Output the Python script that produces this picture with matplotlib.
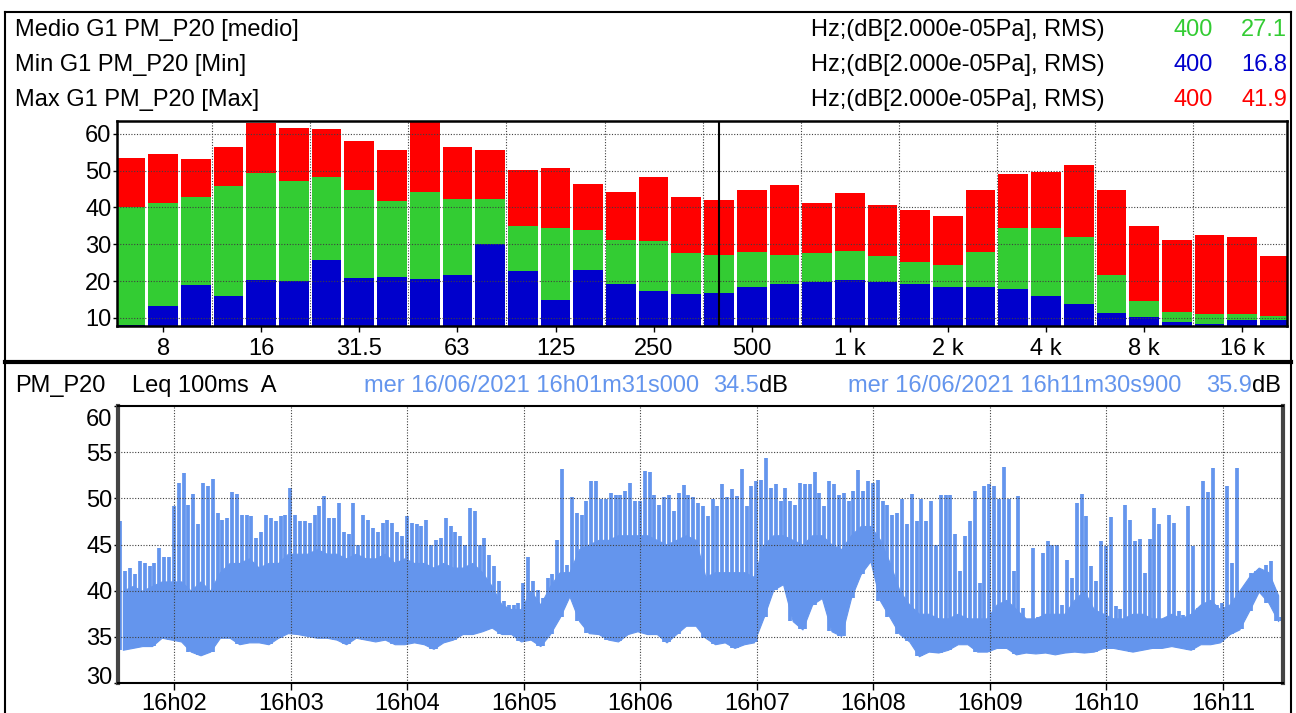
import numpy as np
import matplotlib
matplotlib.use('Agg')
import matplotlib.pyplot as plt
from matplotlib.lines import Line2D
from matplotlib.transforms import ScaledTranslation

plt.rcParams['font.family'] = ['Liberation Sans', 'DejaVu Sans']

# ---------------- data: 1/3 octave spectrum ----------------
bands = ['6.3', '8', '10', '12.5', '16', '20', '25', '31.5', '40', '50', '63', '80',
         '100', '125', '160', '200', '250', '315', '400', '500', '630', '800',
         '1 k', '1.25 k', '1.6 k', '2 k', '2.5 k', '3.15 k', '4 k', '5 k', '6.3 k',
         '8 k', '10 k', '12.5 k', '16 k', '20 k']
max_db = [53.4, 54.5, 53.2, 56.4, 63.0, 61.6, 61.4, 58.1, 55.6, 63.6, 56.4, 55.6,
          50.2, 50.7, 46.3, 44.2, 48.3, 42.8, 41.9, 44.7, 46.1, 41.1,
          43.9, 40.6, 39.2, 37.6, 44.7, 49.1, 49.6, 51.5, 44.7,
          34.9, 31.3, 32.4, 31.9, 26.9]
medio_db = [40.0, 41.1, 42.8, 45.8, 49.3, 47.2, 48.3, 44.7, 41.7, 44.2, 42.2, 42.2,
            34.9, 34.3, 33.8, 31.3, 30.8, 27.5, 27.1, 28.0, 27.2, 27.5,
            28.3, 26.9, 25.3, 24.5, 28.0, 34.3, 34.3, 31.9, 21.7,
            14.6, 11.6, 11.1, 11.1, 10.5]
min_db = [8.1, 13.3, 19.0, 16.0, 20.4, 20.0, 25.8, 20.9, 21.2, 20.7, 21.7, 30.2,
          22.8, 14.9, 23.1, 19.3, 17.4, 16.6, 16.8, 18.5, 19.3, 19.8,
          20.4, 19.8, 19.3, 18.5, 18.5, 17.9, 16.0, 13.8, 11.4,
          10.3, 8.9, 8.4, 9.5, 9.5]
tick_bands = ['8', '16', '31.5', '63', '125', '250', '500', '1 k', '2 k', '4 k', '8 k', '16 k']
cursor_band = '400'
spec_yticks = [10, 20, 30, 40, 50, 60]

legend_rows = [('Medio G1 PM_P20 [medio]', '400', '27.1', '#33CC33'),
               ('Min G1 PM_P20 [Min]', '400', '16.8', '#0000CC'),
               ('Max G1 PM_P20 [Max]', '400', '41.9', '#FF0000')]
unit_text = 'Hz;(dB[2.000e-05Pa], RMS)'

# ---------------- data: Leq 100ms A time history (s after 16h01m31s) ----------------
# peak level per 2.5 s
peak_db = [
    47.5, 42.1, 42.5, 41.8, 43.2, 43.0, 42.7, 43.0, 44.6, 43.7,
    43.6, 49.2, 51.7, 52.7, 49.3, 50.5, 47.2, 51.7, 51.3, 52.1,
    48.4, 47.7, 47.9, 50.7, 50.5, 48.2, 48.2, 48.1, 45.7, 46.3,
    48.2, 47.9, 47.5, 48.1, 48.2, 51.1, 48.2, 47.5, 47.5, 47.3,
    48.2, 49.2, 50.3, 47.9, 47.9, 49.5, 46.4, 46.1, 49.5, 45.0,
    48.2, 47.7, 46.8, 46.3, 47.3, 47.7, 47.3, 46.4, 45.9, 48.1,
    47.3, 47.2, 47.0, 47.7, 45.0, 45.5, 45.7, 47.9, 47.0, 46.4,
    45.9, 45.0, 48.9, 48.6, 45.0, 45.7, 43.9, 42.7, 41.0, 38.9,
    38.5, 38.5, 38.7, 40.8, 43.6, 41.0, 40.1, 39.2, 41.4, 41.8,
    45.5, 53.2, 42.8, 50.1, 48.4, 48.2, 49.7, 51.9, 51.9, 49.9,
    49.9, 50.6, 50.4, 50.4, 50.8, 51.7, 49.7, 49.7, 53.0, 52.8,
    50.4, 49.3, 50.1, 50.4, 48.6, 50.6, 51.4, 50.4, 50.1, 49.5,
    49.2, 48.1, 49.9, 49.2, 51.5, 50.1, 51.0, 50.2, 53.2, 49.2,
    51.3, 51.9, 52.0, 54.4, 51.1, 51.5, 49.7, 51.1, 49.7, 49.3,
    51.7, 51.5, 51.5, 52.9, 50.6, 49.2, 51.9, 51.5, 50.4, 50.6,
    49.7, 50.8, 53.1, 50.8, 51.9, 51.7, 52.0, 49.7, 49.3, 48.2,
    48.4, 49.9, 47.2, 50.5, 47.5, 49.9, 47.5, 49.7, 45.0, 50.4,
    50.4, 50.4, 46.1, 42.1, 45.9, 47.5, 50.8, 40.8, 51.3, 51.5,
    51.3, 49.9, 53.4, 49.9, 42.1, 50.3, 38.1, 36.7, 44.6, 37.1,
    44.1, 45.4, 45.0, 45.0, 38.5, 43.3, 41.4, 49.5, 50.5, 48.1,
    42.7, 41.1, 45.4, 44.8, 48.0, 38.3, 38.0, 49.3, 47.7, 45.4,
    45.6, 41.9, 45.6, 48.9, 47.2, 36.7, 48.2, 47.3, 37.8, 37.4,
    49.2, 44.8, 38.1, 51.9, 50.7, 53.3, 38.5, 38.7, 51.3, 43.0,
    53.3, 39.9, 38.5, 41.9, 42.1, 41.8, 42.8, 43.2, 39.0, 37.1]
# lower envelope per 5 s
floor_db = [
    33.6, 33.8, 34.0, 34.0, 34.9, 34.7, 34.5, 33.4, 33.0, 33.4,
    34.9, 34.9, 34.2, 34.4, 34.4, 34.2, 34.9, 35.4, 35.3, 35.1,
    34.9, 34.9, 34.7, 34.2, 34.9, 34.7, 34.5, 34.7, 34.2, 34.2,
    34.4, 34.2, 33.7, 34.4, 34.7, 35.3, 35.3, 35.6, 36.0, 35.3,
    35.3, 34.5, 34.7, 34.0, 35.3, 37.1, 39.4, 36.7, 35.4, 35.3,
    34.7, 34.5, 35.3, 35.6, 35.3, 35.3, 34.4, 35.3, 36.2, 36.2,
    34.9, 34.2, 34.4, 33.8, 34.2, 34.4, 37.1, 40.1, 40.7, 36.7,
    35.8, 38.5, 39.2, 35.6, 35.1, 39.2, 41.8, 43.2, 38.9, 37.1,
    35.3, 34.5, 32.9, 33.4, 33.3, 33.6, 34.2, 34.2, 33.4, 33.4,
    33.8, 33.8, 33.1, 33.3, 33.2, 33.3, 33.1, 33.3, 33.4, 33.3,
    33.4, 33.8, 33.8, 33.6, 33.4, 33.6, 33.8, 33.8, 34.0, 33.8,
    33.6, 34.2, 34.2, 34.4, 35.3, 35.8, 37.8, 39.9, 38.7, 36.7]
# top of the dense band per 5 s
core_db = [
    40.0, 40.5, 40.0, 40.5, 41.0, 41.0, 41.0, 40.0, 41.0, 40.0,
    42.0, 43.0, 43.0, 43.5, 42.5, 43.0, 43.0, 44.0, 44.0, 44.0,
    44.5, 44.0, 44.0, 43.5, 44.0, 43.5, 43.5, 44.0, 43.0, 43.5,
    43.0, 43.0, 42.5, 43.0, 42.5, 42.5, 43.0, 42.0, 40.5, 38.5,
    38.0, 38.0, 40.0, 38.5, 40.5, 42.0, 42.0, 44.5, 45.0, 45.5,
    45.5, 46.0, 46.0, 46.0, 46.0, 45.5, 45.0, 45.5, 46.0, 45.5,
    41.5, 42.0, 42.0, 42.0, 42.0, 41.5, 45.0, 46.0, 46.0, 45.5,
    45.0, 46.0, 46.0, 45.0, 44.5, 46.0, 47.0, 47.0, 45.5, 43.0,
    40.0, 38.5, 37.5, 37.5, 37.0, 37.0, 37.5, 37.0, 37.0, 37.0,
    38.5, 39.0, 38.0, 37.0, 37.0, 37.5, 37.5, 37.5, 39.0, 40.0,
    38.0, 37.5, 37.0, 37.0, 37.5, 37.5, 37.0, 37.0, 37.5, 37.0,
    37.5, 38.5, 39.0, 38.0, 38.5, 40.0, 41.5, 42.5, 42.0, 39.5]
time_ticks = ['16h02', '16h03', '16h04', '16h05', '16h06', '16h07', '16h08', '16h09', '16h10', '16h11']
start_label = 'mer 16/06/2021 16h01m31s000'
end_label = 'mer 16/06/2021 16h11m30s900'
start_val, end_val = '34.5', '35.9'
time_yticks = [30, 35, 40, 45, 50, 55, 60]

# ---------------- figure ----------------
W, H = 1296, 713
fig = plt.figure(figsize=(W / 100, H / 100), dpi=100)
fig.patch.set_facecolor('white')

def fx(x):
    return x / W

def fy(y):
    return 1 - y / H

FS = 17
BLUE_T = '#6495ED'
GRID = dict(color='#404040', linestyle=(0, (1, 1.5)), linewidth=0.8)

# frame lines
for (x0, y0, x1, y1, lw) in [(5, 12, 1291, 12, 1.5), (5, 12, 5, 713, 1.5),
                             (1291, 12, 1291, 713, 1.5), (5, 362, 1291, 362, 3.0)]:
    fig.add_artist(Line2D([fx(x0), fx(x1)], [fy(y0), fy(y1)], color='black', lw=lw))

# legend rows
for i, (lab, freq, val, col) in enumerate(legend_rows):
    yy = fy(30 + 35 * i)
    fig.text(fx(15), yy, lab, fontsize=FS, va='center', ha='left')
    fig.text(fx(811), yy, unit_text, fontsize=FS, va='center', ha='left')
    fig.text(fx(1213), yy, freq, fontsize=FS, va='center', ha='right', color=col)
    fig.text(fx(1287), yy, val, fontsize=FS, va='center', ha='right', color=col)

# ---------------- spectrum axes ----------------
ax1 = fig.add_axes([fx(117), fy(326), fx(1287) - fx(117), fy(121) - fy(326)])
idx = np.arange(len(bands))
ax1.bar(idx, max_db, width=0.91, color='#FF0000', zorder=2)
ax1.bar(idx, medio_db, width=0.91, color='#33CC33', zorder=3)
ax1.bar(idx, min_db, width=0.91, color='#0000CC', zorder=4)
ax1.set_yticks(spec_yticks)
ax1.set_yticklabels([str(v) for v in spec_yticks])
ax1.set_xticks([bands.index(b) for b in tick_bands])
ax1.set_xticklabels(tick_bands)
ax1.set_xlim(-0.41, len(bands) - 0.63)
ax1.set_ylim(7.8, 63.5)
for v in spec_yticks:
    ax1.axhline(v, zorder=5, **GRID)
for k in range(2, len(bands) - 1, 3):
    ax1.axvline(k + 0.5, zorder=5, **GRID)
ax1.axvline(bands.index(cursor_band), color='black', lw=1.5, zorder=6)
ax1.tick_params(axis='x', length=4, width=1, pad=5, labelsize=FS)
ax1.tick_params(axis='y', length=3, width=1, pad=1, labelsize=FS)
for s in ax1.spines.values():
    s.set_linewidth(1.8)
    s.set_zorder(7)

# ---------------- time history axes ----------------
ax2 = fig.add_axes([fx(118), fy(683), fx(1283) - fx(118), fy(406) - fy(683)])
t_peak = np.arange(len(peak_db)) * 2.5 + 1.25
t_core = np.arange(len(core_db)) * 5.0 + 2.5
floor_rep = np.repeat(floor_db, 2)
ax2.fill_between(t_core, floor_db, core_db, color=BLUE_T, lw=0.8, edgecolor=BLUE_T, zorder=2)
ax2.vlines(t_peak, floor_rep, peak_db, color=BLUE_T, lw=2.7, zorder=2)
tick_pos = [(int(s[3:5]) - 2) * 60 + 29 for s in time_ticks]
ax2.set_xticks(tick_pos)
ax2.set_xticklabels(time_ticks)
ax2.set_yticks(time_yticks)
ax2.set_yticklabels([str(v) for v in time_yticks])
ax2.set_xlim(0, 600)
ax2.set_ylim(30, 60)
for v in time_yticks[1:-1]:
    ax2.axhline(v, zorder=3, **GRID)
for p in tick_pos:
    ax2.axvline(p, zorder=3, **GRID)
ax2.tick_params(axis='x', length=5, width=1, pad=2, labelsize=FS)
ax2.tick_params(axis='y', length=3, width=1, pad=1, labelsize=FS)
ylabs = ax2.get_yticklabels()
ylabs[0].set_transform(ylabs[0].get_transform() + ScaledTranslation(0, 0.07, fig.dpi_scale_trans))
ylabs[-1].set_transform(ylabs[-1].get_transform() + ScaledTranslation(0, -0.11, fig.dpi_scale_trans))
for name, s in ax2.spines.items():
    s.set_linewidth(1.5)
    s.set_zorder(7)
ax2.spines['left'].set_linewidth(3)
ax2.spines['left'].set_color('#444444')
ax2.spines['right'].set_linewidth(3)
ax2.spines['right'].set_color('#444444')

# header of the time history panel
yh = fy(386)
fig.text(fx(15), yh, 'PM_P20', fontsize=FS, va='center')
fig.text(fx(132), yh, 'Leq 100ms  A', fontsize=FS, va='center')
fig.text(fx(364), yh, start_label, fontsize=FS, va='center', color=BLUE_T)
fig.text(fx(759), yh, start_val, fontsize=FS, va='center', ha='right', color=BLUE_T)
fig.text(fx(759), yh, 'dB', fontsize=FS, va='center', ha='left')
fig.text(fx(848), yh, end_label, fontsize=FS, va='center', color=BLUE_T)
fig.text(fx(1252), yh, end_val, fontsize=FS, va='center', ha='right', color=BLUE_T)
fig.text(fx(1252), yh, 'dB', fontsize=FS, va='center', ha='left')

fig.savefig('out.png', dpi=100)
